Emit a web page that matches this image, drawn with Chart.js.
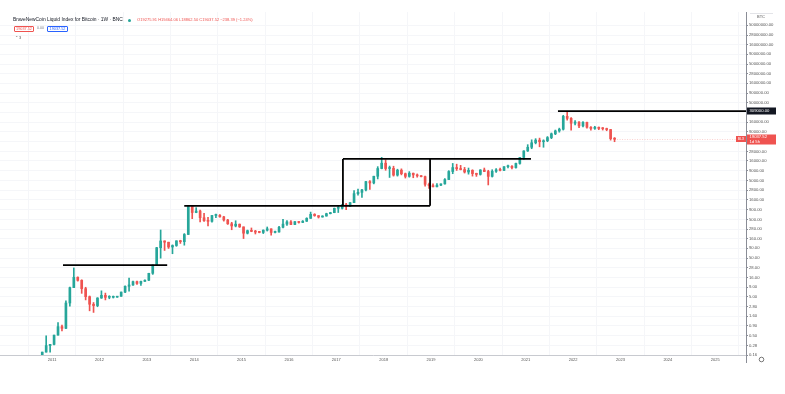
<!DOCTYPE html>
<html><head><meta charset="utf-8">
<script src="https://cdn.jsdelivr.net/npm/chart.js@4.4.0/dist/chart.umd.min.js"></script>
<style>
html,body{margin:0;padding:0;background:#fff;}
#wrap{position:relative;width:785px;height:394px;overflow:hidden;font-family:"Liberation Sans",Arial,sans-serif;}
canvas{position:absolute;left:0;top:0;}
.t{position:absolute;white-space:nowrap;line-height:1;}
.box{position:absolute;box-sizing:border-box;font-size:3.8px;line-height:5px;text-align:center;border-radius:1px;}
</style></head><body>
<div id="wrap">
<canvas id="c" width="785" height="394"></canvas>
<div class="t" style="left:13px;top:17.5px;font-size:4.9px;color:#131722">BraveNewCoin Liquid Index for Bitcoin · 1W · BNC</div>
<div style="position:absolute;left:127.5px;top:18.5px;width:3px;height:3px;border-radius:50%;background:#26a69a"></div>
<div class="t" style="left:137px;top:18px;font-size:4.05px;color:#ef5350">O19275.91 H19464.06 L18862.50 C19037.52 −238.39 (−1.24%)</div>
<div class="box" style="left:14px;top:26px;width:20px;height:6px;border:0.6px solid #ef5350;color:#ef5350">19037.52</div>
<div class="t" style="left:37px;top:27.3px;font-size:3.6px;color:#787b86">0.00</div>
<div class="box" style="left:47px;top:26px;width:21px;height:6px;border:0.6px solid #2962ff;color:#2962ff">19037.52</div>
<div class="t" style="left:15px;top:36px;font-size:4px;color:#555">⌃ 3</div>
<div class="t" style="left:757px;top:14.5px;font-size:4px;color:#555">BTC</div>
</div>
<script>
// ---- data (monthly candles) ----
const startYear = 2010, startMonth = 10;
const closes = [
 0.19,0.28,0.30,
 0.52,0.86,0.78,3.5,8.7,16.1,13.4,8.2,5.1,3.25,3.0,4.7,
 5.5,4.9,4.9,4.95,5.2,6.7,9.4,10.2,12.4,11.2,12.6,13.5,
 20.4,33.4,93,139,129,97,106,140,133,204,1130,750,
 820,550,460,445,630,640,580,480,385,338,375,320,
 220,255,245,235,230,263,285,230,236,313,377,430,
 368,437,416,448,530,673,624,574,608,700,745,963,
 965,1190,1080,1350,2300,2480,2870,4700,4340,6450,10200,14000,
 10200,10300,6900,9250,7500,6400,7730,7000,6600,6300,4000,3700,
 3450,3800,4100,5300,8550,10800,10080,9600,8300,9150,7550,7200,
 9350,8550,6400,8650,9450,9150,11350,11650,10780,13800,19700,29000,
 36000,47000,55000,50000,53000,64000,80000,95000,105000,225000,200000,150000,
 160000,128000,158000,118000,110000,118000,110000,108000,103000,60000,58000];
const highs = [
 0.19,0.50,0.30,
 0.52,1.10,0.95,4.0,9.0,28,16.5,13.9,8.9,5.3,3.6,4.8,
 7.2,6.3,5.4,5.3,5.2,6.7,9.7,15.4,12.9,12.8,12.9,13.9,
 20.4,33.4,95,266,140,129,110,140,145,215,1150,1150,
 1000,870,720,560,630,680,660,600,500,420,460,380,
 320,265,300,260,245,268,318,285,250,330,500,465,
 465,440,440,465,550,770,700,625,620,720,760,980,
 1150,1200,1290,1350,2760,3000,2950,4750,4980,6470,11400,19800,
 17200,11800,11700,9800,10000,7800,8500,7800,7400,6700,6500,4300,
 4100,4200,4100,5600,9000,13800,13200,12300,10900,10500,9500,7750,
 9550,10500,9200,9500,10100,10400,11450,12500,12100,14100,19900,29300,
 42000,56000,60000,62000,56000,68000,84000,100000,112000,240000,300000,210000,
 175000,165000,165000,160000,122000,125000,120000,116000,112000,104000,64000];
const lows = [
 0.06,0.19,0.19,
 0.29,0.52,0.67,0.76,2.9,8.7,12.8,6.2,4.2,2.2,2.0,2.8,
 4.6,4.2,4.5,4.7,4.9,5.2,6.5,7.1,10.0,10.5,10.0,12.5,
 13.2,19.1,33.2,50,79,89,65,101,120,108,203,520,
 740,430,440,340,420,550,570,450,370,270,320,310,
 160,210,240,210,225,215,250,195,225,235,300,350,
 365,365,400,410,440,530,600,540,570,605,690,740,
 750,920,890,1060,1340,2100,1830,2700,2970,4100,5500,10000,
 9200,6000,6500,6500,7000,5800,6100,5900,6100,6200,3600,3150,
 3400,3400,3700,4050,5300,7500,9100,9400,7800,7300,6500,6400,
 6900,8450,3850,6150,8100,8900,8950,10550,9900,10400,13200,17600,
 28000,33000,44000,37000,36000,50000,60000,76000,88000,100000,180000,100000,
 135000,115000,120000,112000,100000,104000,102000,100000,96000,55000,50000];
const firstOpen = 0.06;

// axis tick labels
const yTickValues = [0.16,0.28,0.50,0.90,1.60,2.80,5.00,9.00,16.00,28.00,50.00,90.00,160.00,280.00,500.00,900.00,
 1600.00,2800.00,5000.00,9000.00,16000.00,28000.00,50000.00,90000.00,160000.00,280000.00,500000.00,900000.00,
 1600000.00,2800000.00,5000000.00,9000000.00,16000000.00,28000000.00,50000000.00];
const yearTicks = [2011,2012,2013,2014,2015,2016,2017,2018,2019,2020,2021,2022,2023,2024,2025];

// drawn levels (decimal years, price)
const level2011 = {from:2011.23, to:2013.43, price:33};
const level2013 = {from:2013.79, to:2018.98, price:1115};
const box2017 = {from:2017.14, to:2018.98, low:1115, high:18000};
const level2017 = {from:2017.14, to:2021.11, price:18000};
const levelATH = {from:2021.68, to:2025.65, price:309000};
const lastPriceText = '19037.52';
const countdownText = '1d 5h';

// ---- build ----
const UP='#26a69a', DOWN='#ef5350';
const xs = closes.map((c,i)=> startYear + (startMonth-1+i+0.5)/12);
const opens = closes.map((c,i)=> i===0 ? firstOpen : closes[i-1]);
const isUp = closes.map((c,i)=> c>=opens[i]);
const wickData = xs.map((x,i)=>({x, y:[lows[i], highs[i]]}));
const bodyData = xs.map((x,i)=>({x, y:[opens[i], closes[i]]}));
const colors = isUp.map(u=>u?UP:DOWN);

function seg(x1,y1,x2,y2){
  return {type:'line', data:[{x:x1,y:y1},{x:x2,y:y2}], borderColor:'#000', borderWidth:1.8,
    pointRadius:0, fill:false, tension:0, order:-1};
}
const lines = [
  seg(level2011.from, level2011.price, level2011.to, level2011.price),
  seg(level2013.from, level2013.price, level2013.to, level2013.price),
  seg(box2017.from, box2017.low, box2017.from, box2017.high),
  seg(box2017.to, box2017.low, box2017.to, box2017.high),
  seg(level2017.from, level2017.price, level2017.to, level2017.price),
  seg(levelATH.from, levelATH.price, levelATH.to, levelATH.price)
];

const overlay = {
  id:'overlay',
  afterDraw(chart){
    const ctx=chart.ctx, ys=chart.scales.y, a=chart.chartArea;
    ctx.save();
    ctx.strokeStyle='#8a8d96'; ctx.lineWidth=1;
    ctx.beginPath(); ctx.moveTo(a.right+0.5, a.bottom); ctx.lineTo(a.right+0.5, a.bottom+8); ctx.stroke();
    const last = closes[closes.length-1];
    const pp = Math.round(ys.getPixelForValue(last));
    ctx.strokeStyle='rgba(239,83,80,0.45)'; ctx.setLineDash([1,1.5]); ctx.lineWidth=0.6;
    ctx.beginPath(); ctx.moveTo(chart.scales.x.getPixelForValue(xs[xs.length-1]), pp+0.5); ctx.lineTo(a.right, pp+0.5); ctx.stroke();
    ctx.setLineDash([]);
    const py = Math.round(ys.getPixelForValue(levelATH.price));
    ctx.fillStyle='#131722'; ctx.fillRect(a.right+1, py-3.5, 29, 7);
    ctx.fillStyle='#fff'; ctx.font='4.2px "Liberation Sans"'; ctx.textBaseline='middle'; ctx.textAlign='left';
    ctx.fillText(levelATH.price.toFixed(2), a.right+3.5, py+0.3);
    ctx.fillStyle=DOWN; ctx.fillRect(a.right+1, pp-4.5, 29, 10);
    ctx.fillRect(a.right-10, pp-3, 10, 6);
    ctx.fillStyle='#fff';
    ctx.fillText(lastPriceText, a.right+3.5, pp-1.8);
    ctx.fillText(countdownText, a.right+3.5, pp+2.6);
    ctx.font='3.4px "Liberation Sans"'; ctx.textAlign='center';
    ctx.fillText('BLX', a.right-5, pp+0.3);
    ctx.strokeStyle='#d0d2d8'; ctx.lineWidth=0.6;
    ctx.beginPath(); ctx.moveTo(a.right+4,13.5); ctx.lineTo(a.right+27,13.5); ctx.stroke();
    ctx.strokeStyle='#555'; ctx.lineWidth=0.8;
    ctx.beginPath(); ctx.arc(761.5, 359.5, 2.3, 0, Math.PI*2); ctx.stroke();
    ctx.restore();
  }
};

new Chart(document.getElementById('c'), {
  type:'bar',
  data:{datasets:[
    {type:'bar', data:wickData, backgroundColor:colors, barThickness:1, grouped:false, order:2},
    {type:'bar', data:bodyData, backgroundColor:colors, barThickness:2, minBarLength:1, grouped:false, order:1},
    ...lines
  ]},
  options:{
    responsive:false, animation:false, devicePixelRatio:1,
    layout:{padding:{top:12,left:0,right:0,bottom:0}},
    plugins:{legend:{display:false}, tooltip:{enabled:false}},
    scales:{
      x:{type:'linear', min:2009.9, max:2025.65, offset:false,
        afterBuildTicks(s){ s.ticks = yearTicks.map(v=>({value:v})); },
        afterFit(s){ s.height = 39; },
        ticks:{autoSkip:false, maxRotation:0, padding:2, color:'#555', font:{size:4, family:'Liberation Sans'},
          callback:v=>String(v)},
        grid:{color:'#f5f6f9', drawTicks:false},
        border:{color:'#c8cad0', width:1}},
      y:{type:'logarithmic', position:'right', min:0.16, max:1.1e8,
        afterBuildTicks(s){ s.ticks = yTickValues.map(v=>({value:v})); },
        afterFit(s){ s.width = 39; },
        ticks:{autoSkip:false, padding:1, color:'#555', font:{size:4.2, family:'Liberation Sans'},
          callback:v=>Number(v).toFixed(2)},
        grid:{color:'#f5f6f9', tickColor:'#8a8d96', tickLength:2},
        border:{color:'#8a8d96', width:1}}
    }
  },
  plugins:[overlay]
});
</script>
</body></html>
